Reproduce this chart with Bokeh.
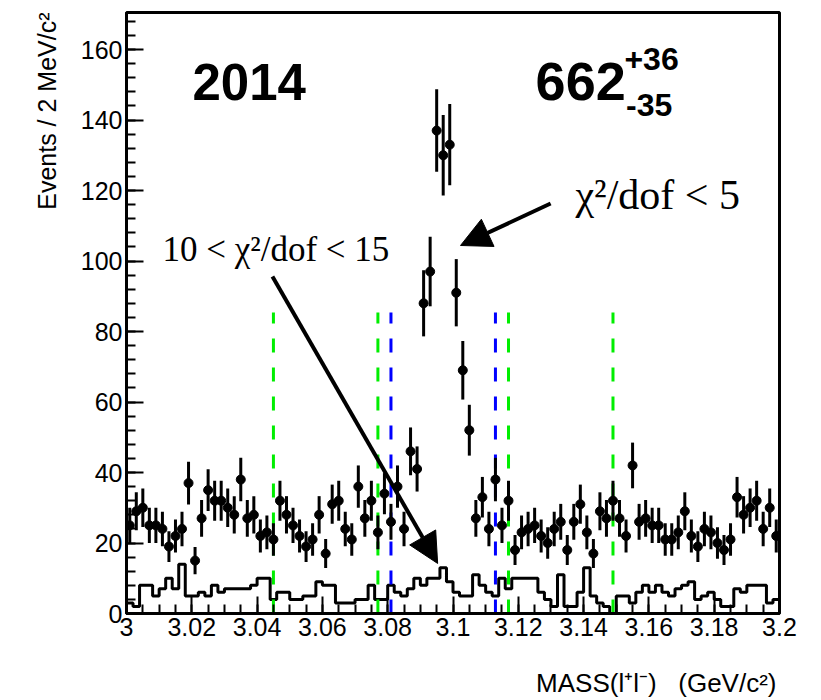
import numpy as np
from bokeh.plotting import figure
from bokeh.models import Range1d, FixedTicker, Title, Arrow, NormalHead, Label
from bokeh.embed import file_html
from bokeh.resources import INLINE

# 2 MeV/c^2 bins over 3.0 - 3.2 GeV/c^2
bin_lo = 3.0
bin_width = 0.002

# chi2/dof < 5 selection: events per bin (drawn with sqrt(N) errors)
counts = [25, 29, 30, 25, 25, 24, 19, 22, 24, 37,
          15, 27, 35, 32, 32, 30, 28, 38, 27, 28,
          22, 23, 21, 32, 28, 25, 22, 19, 21, 28,
          17, 31, 32, 24, 21, 36, 27, 32, 23, 34,
          26, 36, 24, 46, 41, 88, 97, 137, 130, 133,
          91, 69, 52, 27, 33, 24, 38, 25, 32, 18,
          23, 24, 25, 22, 20, 24, 26, 18, 26, 31,
          23, 17, 29, 27, 32, 27, 22, 42, 26, 27,
          25, 25, 21, 21, 23, 29, 22, 19, 24, 23,
          20, 18, 21, 33, 28, 30, 32, 24, 30, 22]

# 10 < chi2/dof < 15 selection: events per bin (step histogram)
loose = [3, 2, 8, 8, 5, 7, 10, 7, 14, 5,
         5, 6, 5, 8, 6, 7, 7, 7, 7, 8,
         10, 10, 4, 6, 6, 4, 4, 5, 5, 9,
         8, 8, 3, 3, 3, 4, 4, 8, 4, 4,
         8, 6, 5, 7, 10, 8, 10, 10, 13, 9,
         6, 5, 5, 11, 8, 6, 5, 10, 7, 10,
         10, 10, 10, 6, 4, 2, 11, 2, 2, 6,
         13, 5, 3, 2, 0, 5, 5, 3, 6, 8,
         6, 8, 6, 5, 7, 8, 9, 4, 5, 6,
         4, 2, 2, 7, 6, 8, 8, 8, 3, 4]

# mass windows (GeV/c^2)
blue_cuts = [3.081, 3.113]
green_cuts = [3.045, 3.077, 3.117, 3.149]
cut_height = 85.4

# axis ticks
x_ticks = [3.0, 3.02, 3.04, 3.06, 3.08, 3.1, 3.12, 3.14, 3.16, 3.18, 3.2]
x_tick_labels = ["3", "3.02", "3.04", "3.06", "3.08", "3.1", "3.12", "3.14", "3.16", "3.18", "3.2"]
y_ticks = [0, 20, 40, 60, 80, 100, 120, 140, 160]
y_tick_labels = ["0", "20", "40", "60", "80", "100", "120", "140", "160"]

counts_arr = np.array(counts, dtype=float)
n_bins = len(counts)
centers = bin_lo + bin_width * (np.arange(n_bins) + 0.5)
errs = np.sqrt(counts_arr)
edges = bin_lo + bin_width * np.arange(n_bins + 1)

p = figure(width=821, height=700, title=None,
           x_range=Range1d(3.0, 3.2), y_range=Range1d(0, 170.5),
           output_backend="svg", toolbar_location=None,
           min_border_left=126, min_border_right=42,
           min_border_top=12, min_border_bottom=87)
p.background_fill_color = "white"
p.border_fill_color = "white"
p.outline_line_color = "black"
p.outline_line_width = 3
p.grid.visible = False

SANS = "Liberation Sans"
SERIF = "Liberation Serif"

# axes in ROOT style: ticks pointing into the frame
for ax in (p.xaxis[0], p.yaxis[0]):
    ax.axis_line_width = 3
    ax.axis_line_color = "black"
    ax.major_tick_in = 17
    ax.major_tick_out = 0
    ax.minor_tick_in = 9
    ax.minor_tick_out = 0
    ax.major_tick_line_width = 2
    ax.minor_tick_line_width = 2
    ax.major_tick_line_color = "black"
    ax.minor_tick_line_color = "black"
    ax.major_label_text_font = SANS
    ax.major_label_text_font_size = "25px"
    ax.major_label_text_color = "black"

x_minor = [round(3.0 + 0.005 * i, 3) for i in range(41)]
y_minor = [4 * i for i in range(43)]
p.xaxis.ticker = FixedTicker(ticks=x_ticks, minor_ticks=x_minor)
p.yaxis.ticker = FixedTicker(ticks=y_ticks, minor_ticks=y_minor)
p.xaxis.major_label_overrides = dict(zip(x_ticks, x_tick_labels))
p.yaxis.major_label_overrides = dict(zip(y_ticks, y_tick_labels))
p.xaxis.major_label_standoff = 4
p.yaxis.major_label_standoff = 4

# blank spacer label under the x tick labels so the title sits lower
p.xaxis.axis_label = "\u00a0"
p.xaxis.axis_label_text_font_size = "2px"
p.xaxis.axis_label_standoff = 22

# vertical axis title, aligned to the top as in ROOT
ytitle = Title(text="Events / 2 MeV/c²", align="right",
               text_font=SANS, text_font_size="25px", text_font_style="normal",
               text_color="black", standoff=33)
p.add_layout(ytitle, "left")

# horizontal axis title, right-aligned below the tick labels
xtitle = Title(text="MASS(l⁺l⁻)\u00a0\u00a0\u00a0(GeV/c²)", align="right",
               text_font=SANS, text_font_size="26px", text_font_style="normal",
               text_color="black", standoff=0, offset=3)
p.add_layout(xtitle, "below")

# loose-selection histogram
p.step(x=edges, y=list(loose) + [loose[-1]], mode="after",
       line_color="black", line_width=3)

# mass window markers
p.segment(x0=green_cuts, y0=[0] * len(green_cuts), x1=green_cuts,
          y1=[cut_height] * len(green_cuts),
          line_color="#00ee00", line_width=3, line_dash="14 15")
p.segment(x0=blue_cuts, y0=[0] * len(blue_cuts), x1=blue_cuts,
          y1=[cut_height] * len(blue_cuts),
          line_color="#0000ff", line_width=3, line_dash="14 15")

# data points with Poisson errors
p.segment(x0=centers, y0=counts_arr - errs, x1=centers, y1=counts_arr + errs,
          line_color="black", line_width=3)
p.scatter(x=centers, y=counts_arr, size=9, marker="circle",
          fill_color="black", line_color="black")

# annotations
def add_text(x, y, text, font, size, bold=False):
    p.add_layout(Label(x=x, y=y, text=text, text_font=font,
                       text_font_size=size,
                       text_font_style="bold" if bold else "normal",
                       text_color="black", text_baseline="middle"))

add_text(3.0202, 150.9, "2014", SANS, "51px", bold=True)
add_text(3.1253, 150.9, "662", SANS, "54px", bold=True)
add_text(3.1525, 157.4, "+36", SANS, "32px", bold=True)
add_text(3.1530, 144.4, "-35", SANS, "32px", bold=True)
add_text(3.1375, 118.6, "χ²/dof < 5", SERIF, "42px")
add_text(3.0110, 103.3, "10 < χ²/dof < 15", SERIF, "35px")

p.add_layout(Arrow(end=NormalHead(size=30, fill_color="black", line_color="black"),
                   x_start=3.1299, y_start=116.3, x_end=3.1023, y_end=104.4,
                   line_color="black", line_width=4))
p.add_layout(Arrow(end=NormalHead(size=30, fill_color="black", line_color="black"),
                   x_start=3.0447, y_start=95.6, x_end=3.0953, y_end=14.2,
                   line_color="black", line_width=4))

open("out.html", "w").write(file_html(p, INLINE))
